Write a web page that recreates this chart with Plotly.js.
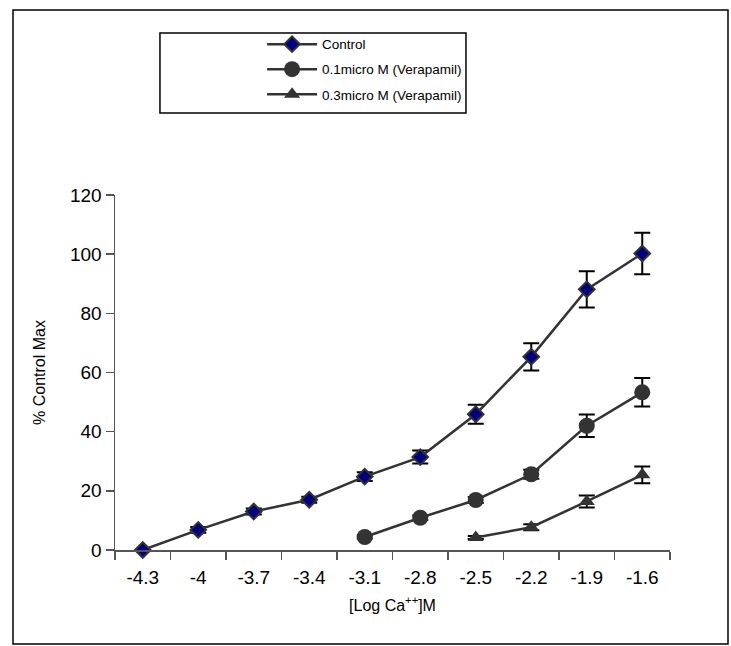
<!DOCTYPE html>
<html>
<head>
<meta charset="utf-8">
<script src="https://cdn.plot.ly/plotly-3.0.1.min.js"></script>
<style>html,body{margin:0;padding:0;background:#fff;}#chart{width:731px;height:646px;}</style>
</head>
<body>
<div id="chart"></div>
<script>
// Categories (log [Ca++] M)
const categories = ["-4.3", "-4", "-3.7", "-3.4", "-3.1", "-2.8", "-2.5", "-2.2", "-1.9", "-1.6"];

// Control
const controlX = ["-4.3", "-4", "-3.7", "-3.4", "-3.1", "-2.8", "-2.5", "-2.2", "-1.9", "-1.6"];
const controlY = [0, 6.8, 13, 17, 24.8, 31.4, 45.9, 65.3, 88.1, 100.2];
const controlErr = [0, 1, 1, 1, 1.5, 2.2, 3.2, 4.6, 6.1, 7];

// 0.1 micro M (Verapamil)
const vera01X = ["-3.1", "-2.8", "-2.5", "-2.2", "-1.9", "-1.6"];
const vera01Y = [4.4, 10.9, 16.9, 25.6, 42, 53.3];
const vera01Err = [0.5, 0.8, 1, 1.5, 3.8, 4.8];

// 0.3 micro M (Verapamil)
const vera03X = ["-2.5", "-2.2", "-1.9", "-1.6"];
const vera03Y = [4.2, 7.7, 16.4, 25.4];
const vera03Err = [0.5, 1, 2, 2.8];

const yTicks = [0, 20, 40, 60, 80, 100, 120];

const names = ["Control", "0.1micro M (Verapamil)", "0.3micro M (Verapamil)"];

const lineCol = "#333333";
const errStyle = {type: "data", visible: true, color: "#000000", thickness: 2, width: 8};

const traces = [
  {
    x: controlX, y: controlY, name: names[0], legendgroup: "a",
    type: "scatter", mode: "lines+markers", cliponaxis: false,
    line: {color: lineCol, width: 2.5},
    marker: {symbol: "diamond", size: 12, color: "#000080", line: {color: lineCol, width: 2}},
    error_y: Object.assign({array: controlErr}, errStyle)
  },
  {
    x: vera01X, y: vera01Y, name: names[1], legendgroup: "b",
    type: "scatter", mode: "lines+markers", cliponaxis: false,
    line: {color: lineCol, width: 2.5},
    marker: {symbol: "circle", size: 16, color: lineCol},
    error_y: Object.assign({array: vera01Err}, errStyle)
  },
  {
    x: vera03X, y: vera03Y, name: names[2], legendgroup: "c",
    type: "scatter", mode: "lines+markers", cliponaxis: false,
    line: {color: lineCol, width: 2.5},
    marker: {symbol: "triangle-up", size: 14, color: lineCol},
    error_y: Object.assign({array: vera03Err}, errStyle)
  }
];

const font = "Liberation Sans, Arial, sans-serif";

const layout = {
  width: 731, height: 646,
  margin: {l: 115, r: 61, t: 195, b: 96},
  paper_bgcolor: "#ffffff", plot_bgcolor: "#ffffff",
  font: {family: font, color: "#000000"},
  showlegend: true,
  legend: {
    x: 0.265, xanchor: "left", y: 1.468, yanchor: "top",
    bgcolor: "rgba(0,0,0,0)", borderwidth: 0,
    font: {family: font, size: 13.5, color: "#000"},
    itemwidth: 50, tracegroupgap: 4.5, traceorder: "grouped"
  },
  xaxis: {
    type: "category", categoryorder: "array", categoryarray: categories,
    range: [-0.5, 9.5], tickson: "boundaries",
    showline: true, linecolor: "#555", linewidth: 1.5,
    ticks: "outside", ticklen: 8, tickcolor: "#555", tickwidth: 1.5,
    showgrid: false, zeroline: false,
    tickfont: {family: font, size: 19, color: "#000"},
    ticklabelstandoff: 10,
    title: {text: "[Log Ca<sup>++</sup>]M", font: {family: font, size: 16, color: "#000"}, standoff: 12}
  },
  yaxis: {
    range: [0, 120], tickvals: yTicks,
    showline: true, linecolor: "#555", linewidth: 1.5,
    ticks: "outside", ticklen: 8, tickcolor: "#555", tickwidth: 1.5,
    showgrid: false, zeroline: false,
    tickfont: {family: font, size: 19, color: "#000"},
    title: {text: "% Control Max", font: {family: font, size: 16, color: "#000"}, standoff: 20}
  },
  shapes: [
    {type: "rect", xref: "paper", yref: "paper", x0: -0.1838, x1: 1.1045, y0: -0.2648, y1: 1.5211,
     line: {color: "#000", width: 1.5}, fillcolor: "rgba(0,0,0,0)", layer: "below"},
    {type: "rect", xref: "paper", yref: "paper", x0: 0.081, x1: 0.6324, y0: 1.231, y1: 1.4563,
     line: {color: "#000", width: 1.5}, fillcolor: "rgba(0,0,0,0)", layer: "below"}
  ],
  annotations: [
    {text: "<b>B</b>", xref: "x", yref: "paper", x: "-4", y: 1.0, xanchor: "center", yanchor: "middle",
     showarrow: false, font: {family: font, size: 20, color: "#000"}}
  ]
};

Plotly.newPlot("chart", traces, layout, {displayModeBar: false, staticPlot: true});
</script>
</body>
</html>
